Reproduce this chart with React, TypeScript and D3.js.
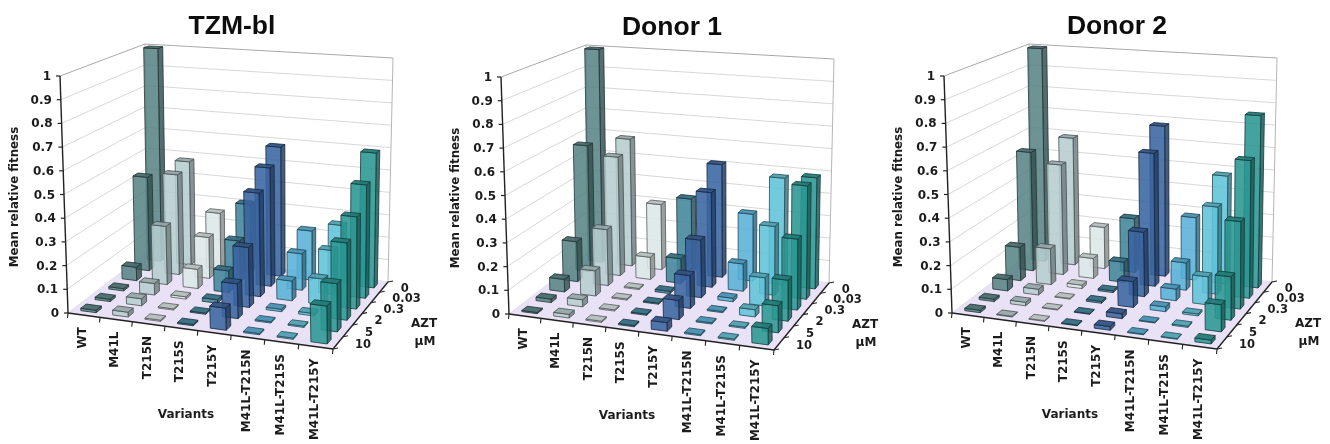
import * as d3 from "d3";

const variants = ["WT", "M41L", "T215N", "T215S", "T215Y", "M41L-T215N", "M41L-T215S", "M41L-T215Y"];
const doses = ["0", "0.03", "0.3", "2", "5", "10"];
const valueTicks = [0, 0.1, 0.2, 0.3, 0.4, 0.5, 0.6, 0.7, 0.8, 0.9, 1];
const variantColors = ["#588485", "#b6cdcf", "#dce7e7", "#41859a", "#3a64a0", "#58b0d8", "#60c3d8", "#2b9692"];

// one row per variant, one value per dose (0 .. 10)
const tzmBl = [
  [1.0, 0.43, 0.06, 0.01, 0.01, 0.01],
  [0.48, 0.455, 0.26, 0.05, 0.03, 0.02],
  [0.255, 0.185, 0.085, 0.01, 0.005, 0.005],
  [0.31, 0.185, 0.095, 0.015, 0.005, 0.005],
  [0.585, 0.525, 0.45, 0.255, 0.145, 0.09],
  [0.22, 0.16, 0.085, 0.01, 0.005, 0.005],
  [0.26, 0.19, 0.11, 0.01, 0.005, 0.005],
  [0.595, 0.49, 0.39, 0.32, 0.195, 0.15],
];
const donor1 = [
  [1.0, 0.58, 0.18, 0.055, 0.015, 0.005],
  [0.59, 0.54, 0.25, 0.11, 0.03, 0.015],
  [0.3, 0.1, 0.005, 0.005, 0.005, 0.005],
  [0.34, 0.11, 0.01, 0.005, 0.005, 0.005],
  [0.51, 0.42, 0.25, 0.14, 0.08, 0.035],
  [0.3, 0.12, 0.015, 0.005, 0.005, 0.005],
  [0.475, 0.3, 0.12, 0.03, 0.005, 0.005],
  [0.49, 0.49, 0.3, 0.17, 0.11, 0.065],
];
const donor2 = [
  [1.0, 0.545, 0.15, 0.05, 0.01, 0.01],
  [0.59, 0.5, 0.16, 0.025, 0.015, 0.003],
  [0.19, 0.09, 0.015, 0.003, 0.003, 0.003],
  [0.245, 0.09, 0.008, 0.008, 0.003, 0.003],
  [0.68, 0.59, 0.28, 0.11, 0.02, 0.015],
  [0.28, 0.12, 0.05, 0.02, 0.003, 0.003],
  [0.48, 0.38, 0.12, 0.008, 0.005, 0.003],
  [0.76, 0.595, 0.37, 0.18, 0.11, 0.015],
];

const panels = [
  { title: "TZM-bl", values: tzmBl, dx: 0, dy: 0, titleX: 232 },
  { title: "Donor 1", values: donor1, dx: 441, dy: 1, titleX: 672 - 441 },
  { title: "Donor 2", values: donor2, dx: 884, dy: 0, titleX: 1117 - 884 },
];

type Pt = [number, number];

// square -> quad projective map. corners: (0,0) (1,0) (1,1) (0,1)
const quadMap = (a: Pt, b: Pt, c: Pt, d: Pt) => {
  const dx1 = b[0] - c[0];
  const dx2 = d[0] - c[0];
  const sx = a[0] - b[0] + c[0] - d[0];
  const dy1 = b[1] - c[1];
  const dy2 = d[1] - c[1];
  const sy = a[1] - b[1] + c[1] - d[1];
  const den = dx1 * dy2 - dx2 * dy1;
  const g = (sx * dy2 - dx2 * sy) / den;
  const h = (dx1 * sy - sx * dy1) / den;
  return (u: number, v: number): Pt => {
    const w = g * u + h * v + 1;
    return [
      ((b[0] - a[0] + g * b[0]) * u + (d[0] - a[0] + h * d[0]) * v + a[0]) / w,
      ((b[1] - a[1] + g * b[1]) * u + (d[1] - a[1] + h * d[1]) * v + a[1]) / w,
    ];
  };
};

const floorMap = quadMap([68, 313], [333, 349], [388, 282], [148, 252]);
const topMap = quadMap([60, 76], [330, 94], [393, 58], [145, 44]);

const zScale = d3.scaleLinear().domain([0, 1]).range([0, 1]);
const uScale = d3.scaleBand().domain(variants).range([0, 1]).paddingInner(0.52).paddingOuter(0.26);
const vScale = d3.scaleBand().domain(doses).range([1, 0]).paddingInner(0.62).paddingOuter(0.31);

const project = (u: number, v: number, value: number): Pt => {
  const f = floorMap(u, v);
  const t = topMap(u, v);
  const k = zScale(value);
  return [f[0] + (t[0] - f[0]) * k, f[1] + (t[1] - f[1]) * k];
};

const line2 = d3.line();
const poly = (pts: Pt[]) => line2(pts) + "Z";

const FONT = "'DejaVu Sans', sans-serif";

const Bar = ({ iVar, iDose, value }: { iVar: number; iDose: number; value: number }) => {
  const u0 = uScale(variants[iVar])!;
  const u1 = u0 + uScale.bandwidth();
  const v0 = vScale(doses[iDose])!;
  const v1 = v0 + vScale.bandwidth();
  const base = variantColors[iVar];
  const side = d3.color(base)!.darker(1.3).formatHex();
  const top = d3.color(base)!.darker(0.55).formatHex();
  const edge = d3.color(base)!.darker(2.6).formatHex();
  const faces = { stroke: edge, strokeWidth: 0.8, strokeLinejoin: "round" as const };
  return (
    <g>
      <path
        d={poly([project(u1, v0, 0), project(u1, v1, 0), project(u1, v1, value), project(u1, v0, value)])}
        fill={side}
        fillOpacity={0.85}
        {...faces}
      />
      <path
        d={poly([project(u0, v0, 0), project(u1, v0, 0), project(u1, v0, value), project(u0, v0, value)])}
        fill={base}
        fillOpacity={0.88}
        {...faces}
      />
      <path
        d={poly([project(u0, v0, value), project(u1, v0, value), project(u1, v1, value), project(u0, v1, value)])}
        fill={top}
        fillOpacity={0.95}
        {...faces}
      />
    </g>
  );
};

const Panel = ({ title, values, dx, dy, titleX }: (typeof panels)[number]) => {
  const textStyle = { fontFamily: FONT, fontWeight: 700, fontSize: 12, fill: "#1c1c1c" };
  const uStep = uScale.step();
  const vStep = vScale.step();
  return (
    <g transform={`translate(${dx}, ${dy})`}>
      <text
        x={titleX}
        y={34}
        textAnchor="middle"
        style={{ fontFamily: "'Liberation Sans', sans-serif", fontWeight: 700, fontSize: 26.5, fill: "#111" }}
      >
        {title}
      </text>

      {/* walls */}
      {valueTicks.map((t) => (
        <path
          key={t}
          d={line2([project(0, 0, t), project(0, 1, t), project(1, 1, t)])!}
          fill="none"
          stroke={t === 1 ? "#a8a8a8" : "#d2d2d2"}
          strokeWidth={t === 1 ? 1 : 0.9}
        />
      ))}
      <path d={line2([project(0, 1, 0), project(0, 1, 1)])!} stroke="#b5b5b5" fill="none" />
      <path d={line2([project(1, 1, 0), project(1, 1, 1)])!} stroke="#b5b5b5" fill="none" />

      {/* floor */}
      <path
        d={poly([project(0, 0, 0), project(1, 0, 0), project(1, 1, 0), project(0, 1, 0)])}
        fill="#e9e1f5"
      />

      {/* bars, back row first */}
      {doses.map((_, iDose) =>
        variants.map((v, iVar) => (
          <Bar key={`${iDose}-${v}`} iVar={iVar} iDose={iDose} value={values[iVar][iDose]} />
        ))
      )}

      {/* value axis */}
      <path d={line2([project(0, 0, 0), project(0, 0, 1)])!} stroke="#222" strokeWidth={1.4} fill="none" />
      {valueTicks.map((t) => {
        const [x, y] = project(0, 0, t);
        return (
          <g key={t}>
            <line x1={x - 4} x2={x} y1={y} y2={y} stroke="#222" strokeWidth={1.2} />
            <text x={x - 9} y={y + 4} textAnchor="end" style={textStyle}>
              {t}
            </text>
          </g>
        );
      })}
      <text
        transform="translate(18, 197) rotate(-90)"
        textAnchor="middle"
        style={{ ...textStyle, fontSize: 11.8 }}
      >
        Mean relative fitness
      </text>

      {/* variant axis */}
      <path d={line2([project(0, 0, 0), project(1, 0, 0)])!} stroke="#222" strokeWidth={1.4} fill="none" />
      {d3.range(variants.length + 1).map((i) => {
        const [x, y] = project(i * uStep, 0, 0);
        return <line key={i} x1={x} x2={x - 0.5} y1={y} y2={y + 5} stroke="#222" strokeWidth={1.1} />;
      })}
      {variants.map((v, i) => {
        const [x, y] = project((i + 0.5) * uStep, 0, 0);
        return (
          <text
            key={v}
            transform={`translate(${x + 2}, ${y + 12}) rotate(-90)`}
            textAnchor="end"
            style={textStyle}
          >
            {v}
          </text>
        );
      })}
      <text x={186} y={418} textAnchor="middle" style={textStyle}>
        Variants
      </text>

      {/* dose axis */}
      <path d={line2([project(1, 0, 0), project(1, 1, 0)])!} stroke="#222" strokeWidth={1.4} fill="none" />
      {d3.range(doses.length + 1).map((i) => {
        const [x, y] = project(1, i * vStep, 0);
        return <line key={i} x1={x} x2={x + 5} y1={y} y2={y - 1} stroke="#222" strokeWidth={1.1} />;
      })}
      {doses.map((d) => {
        const [x, y] = project(1, vScale(d)! + vScale.bandwidth() / 2, 0);
        return (
          <text key={d} x={x + 17} y={y + 5} textAnchor="start" style={{ ...textStyle, fontSize: 11.5 }}>
            {d}
          </text>
        );
      })}
      <text x={424} y={327} textAnchor="middle" style={textStyle}>
        AZT
      </text>
      <text x={425} y={345} textAnchor="middle" style={textStyle}>
        µM
      </text>
    </g>
  );
};

export default function App() {
  return (
    <svg
      width={1330}
      height={444}
      style={{ position: "absolute", left: 0, top: 0, background: "#fff" }}
    >
      <defs>
        <filter id="soft" x="0" y="0" width="100%" height="100%">
          <feGaussianBlur stdDeviation="0.35" />
        </filter>
      </defs>
      <g filter="url(#soft)">
        {panels.map((p) => (
          <Panel key={p.title} {...p} />
        ))}
      </g>
    </svg>
  );
}
